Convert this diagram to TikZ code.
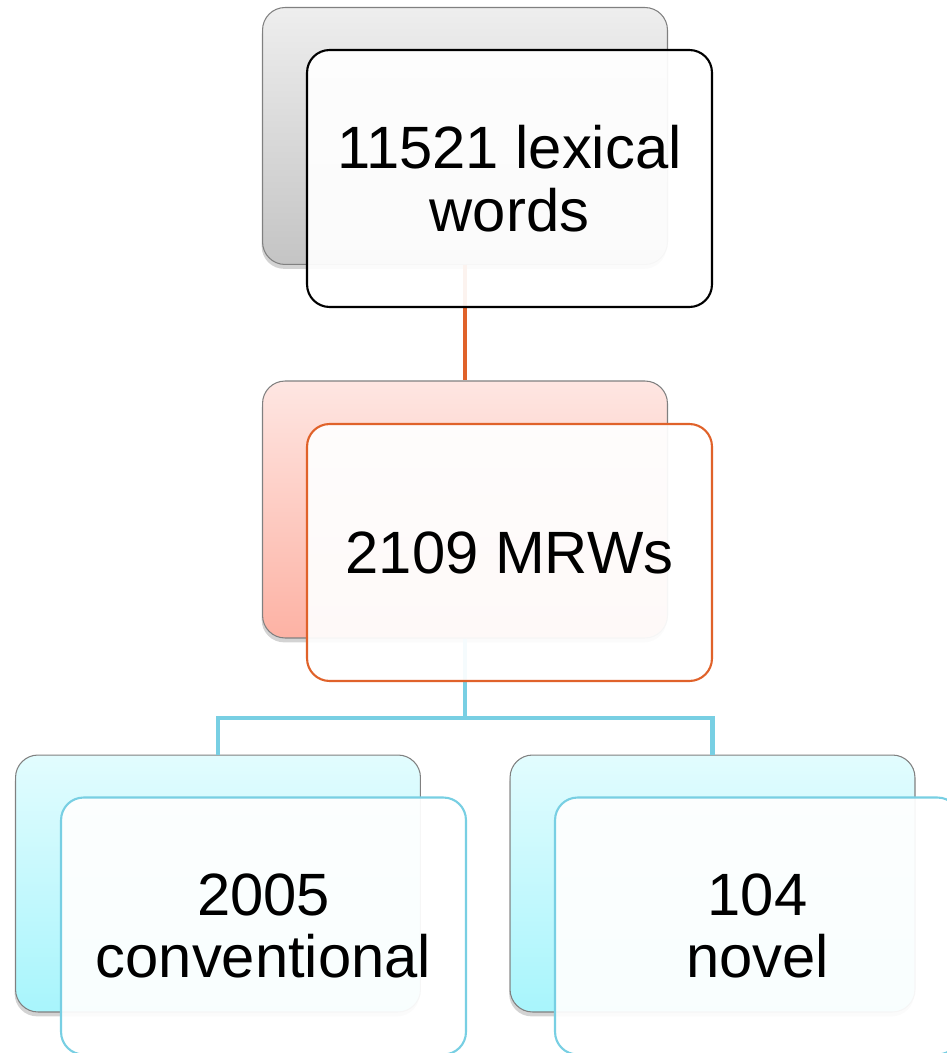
\documentclass[tikz,border=0pt]{standalone}
\usepackage{fontspec}
\setmainfont{Liberation Sans}
\usepackage{xcolor}
\usepackage{tikz}
\usetikzlibrary{shadows}

\definecolor{grayTop}{HTML}{EEEEEE}
\definecolor{grayBot}{HTML}{C4C4C4}
\definecolor{pinkTop}{HTML}{FEE6E2}
\definecolor{pinkBot}{HTML}{FDB2A4}
\definecolor{cyanTop}{HTML}{E2FCFE}
\definecolor{cyanBot}{HTML}{A8F5FC}
\definecolor{lineOrange}{HTML}{E0622A}
\definecolor{lineBlue}{HTML}{78CFE3}
\definecolor{edgeGray}{HTML}{808080}

\tikzset{
    backbox/.style={rectangle,rounded corners=0.45cm,draw=edgeGray,line width=0.6pt,
        minimum width=8.1cm,minimum height=5.14cm,
        drop shadow={shadow xshift=-0.5pt,shadow yshift=-2.5pt,opacity=0.35}},
    frontbox/.style={rectangle,rounded corners=0.45cm,fill=white,fill opacity=0.93,
        text opacity=1,line width=1.2pt,minimum width=8.1cm,minimum height=5.14cm,
        align=center,font=\fontsize{34}{35.7}\selectfont},
    link/.style={line width=2.8pt}
}

\begin{document}
\begin{tikzpicture}[x=0.02cm,y=-0.02cm]
    \useasboundingbox (0,0) rectangle (946,1053);

    % Back boxes
    \node[backbox,top color=grayTop,bottom color=grayBot] (wordsback) at (465,136) {};
    \node[backbox,top color=pinkTop,bottom color=pinkBot] (mrwback) at (465,509.5) {};
    \node[backbox,top color=cyanTop,bottom color=cyanBot] (convback) at (218,883.5) {};
    \node[backbox,top color=cyanTop,bottom color=cyanBot] (novelback) at (712.5,883.5) {};

    % Connectors
    \draw[link,lineOrange] (wordsback.south) -- (mrwback.north);
    \coordinate (split) at (465,718);
    \draw[link,lineBlue] (mrwback.south) -- (split) -| (convback.north);
    \draw[link,lineBlue] (split) -| (novelback.north);

    % Front boxes
    \node[frontbox,draw=black] (words) at (509.5,178.5) {11521 lexical\\words};
    \node[frontbox,draw=lineOrange] (mrw) at (509.5,552.5) {2109 MRWs};
    \node[frontbox,draw=lineBlue] (conv) at (263.5,926) {2005\\conventional};
    \node[frontbox,draw=lineBlue] (novel) at (757.5,926) {104\\novel};
\end{tikzpicture}
\end{document}
